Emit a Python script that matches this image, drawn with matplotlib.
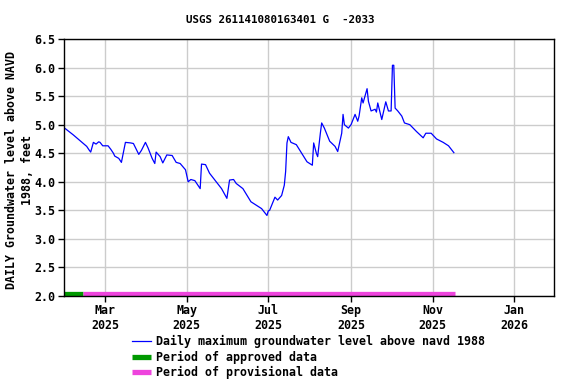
import matplotlib
matplotlib.use("Agg")
import matplotlib.pyplot as plt
import matplotlib.dates as mdates
import numpy as np
import pandas as pd

title = "USGS 261141080163401 G  -2033"
ylabel = "DAILY Groundwater level above NAVD\n1988, feet"

dates = ["2025-01-30", "2025-02-05", "2025-02-10", "2025-02-15", "2025-02-17", "2025-02-18",
         "2025-02-20", "2025-02-22", "2025-02-24", "2025-02-25", "2025-02-27", "2025-03-03",
         "2025-03-05", "2025-03-07", "2025-03-08", "2025-03-11", "2025-03-13", "2025-03-16",
         "2025-03-20", "2025-03-22", "2025-03-26", "2025-03-28", "2025-03-31", "2025-04-02",
         "2025-04-05", "2025-04-07", "2025-04-08", "2025-04-11", "2025-04-13", "2025-04-16",
         "2025-04-20", "2025-04-23", "2025-04-26", "2025-04-30", "2025-05-02", "2025-05-04",
         "2025-05-07", "2025-05-11", "2025-05-12", "2025-05-15", "2025-05-18", "2025-05-22",
         "2025-05-27", "2025-05-31", "2025-06-02", "2025-06-05", "2025-06-07", "2025-06-12",
         "2025-06-18", "2025-06-22", "2025-06-26", "2025-06-30", "2025-07-01", "2025-07-02",
         "2025-07-06", "2025-07-08", "2025-07-11", "2025-07-13", "2025-07-14", "2025-07-15",
         "2025-07-16", "2025-07-18", "2025-07-22", "2025-07-26", "2025-07-30", "2025-08-03",
         "2025-08-04", "2025-08-06", "2025-08-07", "2025-08-09", "2025-08-10", "2025-08-12",
         "2025-08-16", "2025-08-20", "2025-08-22", "2025-08-25", "2025-08-26", "2025-08-27",
         "2025-08-30", "2025-09-01", "2025-09-04", "2025-09-06", "2025-09-07", "2025-09-09",
         "2025-09-10", "2025-09-13", "2025-09-14", "2025-09-16", "2025-09-19", "2025-09-20",
         "2025-09-21", "2025-09-24", "2025-09-27", "2025-09-29", "2025-10-01", "2025-10-02",
         "2025-10-03", "2025-10-04", "2025-10-06", "2025-10-09", "2025-10-11", "2025-10-15",
         "2025-10-20", "2025-10-25", "2025-10-27", "2025-10-31", "2025-11-04", "2025-11-09",
         "2025-11-13", "2025-11-17"]
levels = [4.93, 4.82, 4.72, 4.62, 4.55, 4.52,
          4.69, 4.66, 4.70, 4.69, 4.63, 4.63,
          4.57, 4.50, 4.45, 4.41, 4.34, 4.69,
          4.68, 4.67, 4.48, 4.55, 4.69, 4.59,
          4.41, 4.32, 4.52, 4.44, 4.33, 4.47,
          4.46, 4.34, 4.32, 4.21, 4.00, 4.04,
          4.02, 3.88, 4.31, 4.30, 4.15, 4.03,
          3.88, 3.71, 4.03, 4.04, 3.97, 3.88,
          3.65, 3.59, 3.53, 3.41, 3.49, 3.50,
          3.73, 3.68, 3.76, 3.94, 4.18, 4.68,
          4.79, 4.69, 4.65, 4.50, 4.35, 4.29,
          4.68, 4.50, 4.44, 4.85, 5.03, 4.94,
          4.71, 4.62, 4.53, 4.85, 5.18, 5.00,
          4.94, 5.00, 5.18, 5.06, 5.15, 5.47,
          5.38, 5.63, 5.41, 5.24, 5.27, 5.22,
          5.38, 5.09, 5.40, 5.24, 5.24, 6.04,
          6.04, 5.29, 5.24, 5.15, 5.03, 5.00,
          4.88, 4.77, 4.85, 4.85, 4.75, 4.69,
          4.63, 4.51]

approved_period = ["2025-01-29", "2025-02-12"]
provisional_period = ["2025-02-12", "2025-11-18"]
x_limits = ["2025-01-29", "2026-01-31"]
tick_dates = ["2025-03-01", "2025-05-01", "2025-07-01", "2025-09-01", "2025-11-01", "2026-01-01"]
tick_labels = ["Mar\n2025", "May\n2025", "Jul\n2025", "Sep\n2025", "Nov\n2025", "Jan\n2026"]
y_ticks = [2.0, 2.5, 3.0, 3.5, 4.0, 4.5, 5.0, 5.5, 6.0, 6.5]

font = {"family": "DejaVu Sans Mono", "weight": "bold"}
fs = 8.4

fig = plt.figure(figsize=(5.76, 3.84), dpi=100)
ax = fig.add_axes([64/576, 1-296/384, (554-64)/576, (296-39)/384])

t = pd.to_datetime(dates)
line, = ax.plot(t, levels, color="#0000ff", lw=0.9,
                label="Daily maximum groundwater level above navd 1988")
ap, = ax.plot(pd.to_datetime(approved_period), [2.035, 2.035], color="#009900", lw=3.8,
              solid_capstyle="butt", label="Period of approved data")
pp, = ax.plot(pd.to_datetime(provisional_period), [2.035, 2.035], color="#ee44dd", lw=3.8,
              solid_capstyle="butt", label="Period of provisional data")

ax.set_xlim(pd.to_datetime(x_limits))
ax.set_ylim(2.0, 6.5)
ax.set_yticks(y_ticks)
ax.set_yticklabels([f"{v:.1f}" for v in y_ticks], fontsize=fs, **font)
ax.set_xticks(pd.to_datetime(tick_dates))
ax.set_xticklabels(tick_labels, fontsize=fs, linespacing=1.12, **font)
ax.grid(True, color="#cccccc", lw=1.0)
ax.set_axisbelow(True)
ax.tick_params(axis="both", direction="out", length=4, width=1, color="black", pad=2)
for s in ax.spines.values():
    s.set_linewidth(1.0)
    s.set_color("black")

fig.text(280/576, 1-20/384, title, ha="center", va="center", fontsize=7.8, **font)
fig.text(19.5/576, 1-170/384, ylabel, ha="center", va="center", rotation=90,
         fontsize=fs, linespacing=1.3, **font)

fig.legend(handles=[line, ap, pp], loc="upper left", bbox_to_anchor=(132/576, 1-335/384),
           frameon=False, prop={"family": "DejaVu Sans Mono", "weight": "bold", "size": fs},
           handlelength=1.6, handletextpad=0.5, labelspacing=0.22, borderpad=0, borderaxespad=0)

fig.savefig("out.png", dpi=100)
